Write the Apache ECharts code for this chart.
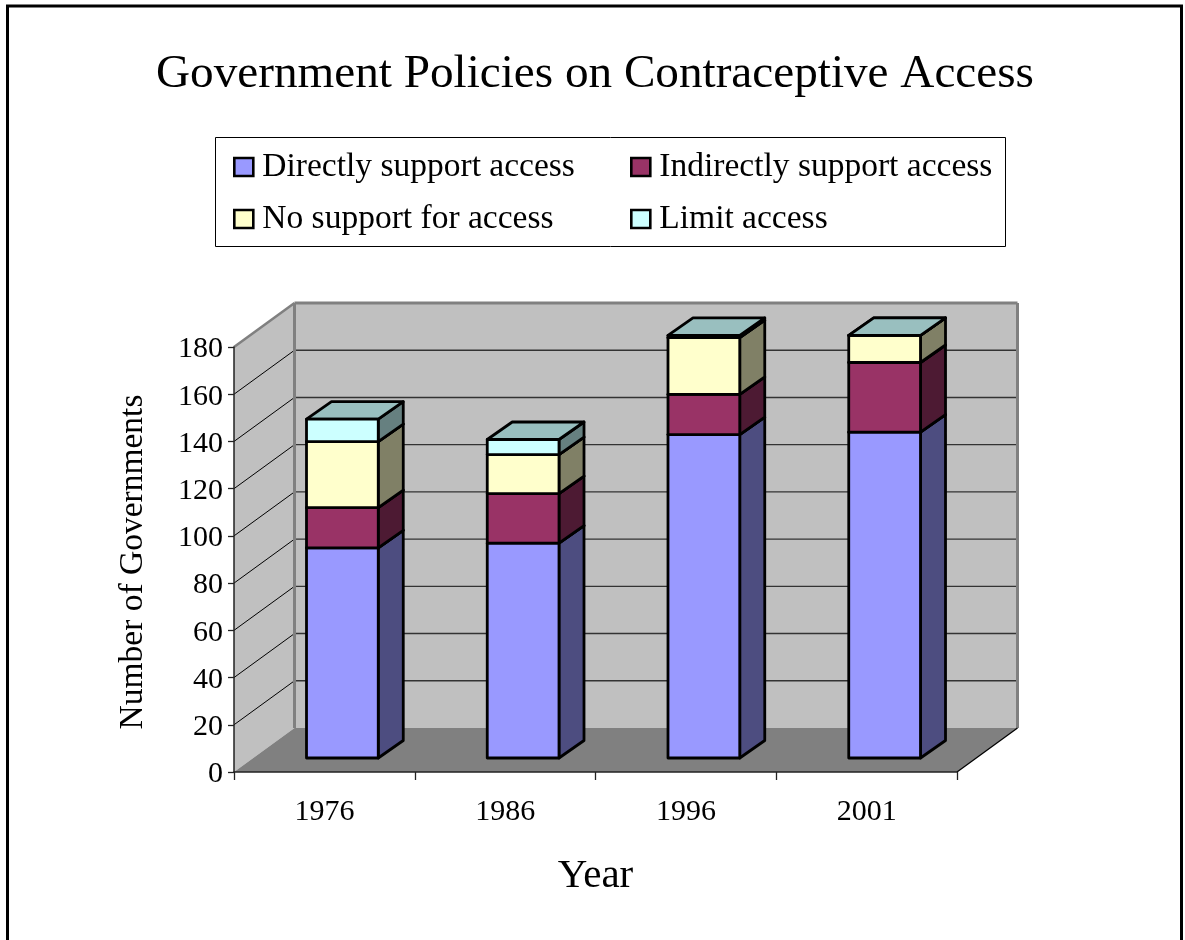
<!DOCTYPE html>
<html>
<head>
<meta charset="utf-8">
<style>html,body{margin:0;padding:0;background:#fff;overflow:hidden}#chart{width:1185px;height:940px}</style>
<script src="https://cdn.jsdelivr.net/npm/echarts@6/dist/echarts.min.js"></script>
</head>
<body>
<div id="chart"></div>
<script>
const categories = ['1976', '1986', '1996', '2001'];
const directlySupport = [89, 91, 137, 138];
const indirectlySupport = [17, 21, 17, 29.5];
const noSupport = [28, 16.5, 24, 11.5];
const limitAccess = [9.5, 6.4, 1, 0];
const yTicks = [0, 20, 40, 60, 80, 100, 120, 140, 160, 180];

const FONT = 'Liberation Serif';
const WALL = { dx: 60.5, dy: -44 };      // depth of the whole plot box
const BAR = { dx: 25, dy: -17.5, ox: 18, oy: -14, ratio: 0.397 }; // bar depth and offset into the box

// Front, side and top shades for each stacked segment
const seriesDefs = [
  { name: 'Directly support access', values: directlySupport, front: '#9999FF', side: '#4D4D80', top: '#7373BF' },
  { name: 'Indirectly support access', values: indirectlySupport, front: '#993366', side: '#4D1A33', top: '#73264D' },
  { name: 'No support for access', values: noSupport, front: '#FFFFCC', side: '#808066', top: '#BFBF99' },
  { name: 'Limit access', values: limitAccess, front: '#CCFFFF', side: '#668080', top: '#99BFBF' }
];

function poly(points, fill, stroke, lineWidth) {
  return { type: 'polygon', shape: { points },
    style: { fill, stroke: stroke || 'none', lineWidth: lineWidth || 0, lineJoin: 'round' } };
}
function line(x1, y1, x2, y2, stroke, lineWidth) {
  return { type: 'line', shape: { x1, y1, x2, y2 }, style: { stroke, lineWidth } };
}

// Back wall, side wall, floor and gridlines of the box
function renderWalls(params, api) {
  const band = api.size([1, 0])[0];
  const x0 = api.coord([0, 0])[0] - band / 2;
  const x1 = x0 + band * categories.length;
  const y0 = api.coord([0, yTicks[0]])[1];
  const yTop = api.coord([0, yTicks[yTicks.length - 1]])[1];
  const bx0 = x0 + WALL.dx, bx1 = x1 + WALL.dx;
  const by0 = y0 + WALL.dy, byTop = yTop + WALL.dy;
  const kids = [
    poly([[bx0, byTop], [bx1, byTop], [bx1, by0], [bx0, by0]], '#C0C0C0'),
    poly([[x0, yTop], [bx0, byTop], [bx0, by0], [x0, y0]], '#C0C0C0'),
    poly([[x0, y0], [x1, y0], [bx1, by0], [bx0, by0]], '#808080')
  ];
  yTicks.slice(1, -1).forEach(t => {
    const y = api.coord([0, t])[1];
    kids.push(line(x0, y, bx0, y + WALL.dy, '#000', 1));
    kids.push(line(bx0, y + WALL.dy, bx1, y + WALL.dy, '#333', 1.4));
  });
  kids.push(line(x0, yTop, bx0, byTop, '#808080', 2.5));
  kids.push(line(bx0, byTop, bx1, byTop, '#808080', 3));
  kids.push(line(bx1, byTop, bx1, by0, '#808080', 3));
  kids.push(line(bx0, byTop, bx0, by0, '#808080', 3));
  kids.push(line(x1, y0, bx1, by0, '#000', 1.3));
  return { type: 'group', children: kids };
}

// One stacked segment of a column: side, top, then front face
function renderSegment(def) {
  return function (params, api) {
    const band = api.size([1, 0])[0];
    const w = band * BAR.ratio;
    const base = api.coord([api.value(0), api.value(1)]);
    const head = api.coord([api.value(0), api.value(2)]);
    const xl = base[0] - w / 2 + BAR.ox, xr = xl + w;
    const yb = base[1] + BAR.oy, yt = head[1] + BAR.oy;
    const s = { stroke: '#000', lw: 2.8 };
    return { type: 'group', children: [
      poly([[xr, yb], [xr + BAR.dx, yb + BAR.dy], [xr + BAR.dx, yt + BAR.dy], [xr, yt]], def.side, s.stroke, s.lw),
      poly([[xl, yt], [xr, yt], [xr + BAR.dx, yt + BAR.dy], [xl + BAR.dx, yt + BAR.dy]], def.top, s.stroke, s.lw),
      poly([[xl, yb], [xr, yb], [xr, yt], [xl, yt]], def.front, s.stroke, s.lw)
    ] };
  };
}

const running = categories.map(() => 0);
const barSeries = seriesDefs.map((def, i) => ({
  type: 'custom',
  name: def.name,
  coordinateSystem: 'cartesian2d',
  clip: false,
  z: 5 + i,
  itemStyle: { color: def.front },
  encode: { x: 0, y: [1, 2] },
  renderItem: renderSegment(def),
  data: def.values.map((v, c) => {
    const from = running[c];
    running[c] = from + v;
    return [c, from, running[c]];
  })
}));

function legendItems(indices) {
  return indices.map(i => ({
    name: seriesDefs[i].name, icon: 'rect',
    itemStyle: { color: seriesDefs[i].front, borderColor: '#000', borderWidth: 2.6 }
  }));
}
const legendBase = {
  orient: 'vertical', itemWidth: 19, itemHeight: 18, itemGap: 18,
  selectedMode: false, top: 150, padding: 0,
  textStyle: { fontFamily: FONT, fontSize: 33.5, color: '#000', padding: [0, 0, 0, 4] }
};

const option = {
  animation: false,
  backgroundColor: '#fff',
  title: {
    text: 'Government Policies on Contraceptive Access',
    left: 590, top: 46, textAlign: 'center',
    textStyle: { fontFamily: FONT, fontSize: 47.2, fontWeight: 'normal', color: '#000' }
  },
  legend: [
    Object.assign({ left: 233, data: legendItems([0, 2]) }, legendBase),
    Object.assign({ left: 630, data: legendItems([1, 3]) }, legendBase)
  ],
  graphic: [
    { type: 'rect', z: -1, shape: { x: 7.5, y: 6, width: 1174, height: 1000 },
      style: { fill: 'none', stroke: '#000', lineWidth: 3 } },
    { type: 'rect', z: -1, shape: { x: 215.5, y: 137.5, width: 790, height: 109 },
      style: { fill: '#fff', stroke: '#000', lineWidth: 1 } }
  ],
  grid: { left: 234, top: 347, width: 723, height: 425, containLabel: false },
  xAxis: {
    type: 'category', data: categories, z: 3,
    name: 'Year', nameLocation: 'middle', nameGap: 84,
    nameTextStyle: { fontFamily: FONT, fontSize: 41, color: '#000' },
    axisLine: { lineStyle: { color: '#222', width: 1.5 } },
    axisTick: { show: true, length: 8, lineStyle: { color: '#222', width: 1.3 } },
    axisLabel: { fontFamily: FONT, fontSize: 30, color: '#000', margin: 25 },
    splitLine: { show: false }
  },
  yAxis: {
    type: 'value', min: 0, max: 180, interval: 20, z: 3,
    name: 'Number of Governments', nameLocation: 'middle', nameGap: 84, nameRotate: 90,
    nameTextStyle: { fontFamily: FONT, fontSize: 33.5, color: '#000', padding: [0, 5, 0, 0] },
    axisLine: { show: true, lineStyle: { color: '#222', width: 1.5 } },
    axisTick: { show: true, length: 6, lineStyle: { color: '#222', width: 1.3 } },
    axisLabel: { fontFamily: FONT, fontSize: 30, color: '#000', margin: 11, verticalAlign: 'top', lineHeight: 5 },
    splitLine: { show: false }
  },
  series: [{
    type: 'custom', coordinateSystem: 'cartesian2d', clip: false, z: 1, silent: true,
    encode: { x: 0, y: 1 },
    renderItem: renderWalls, data: [[0, 0]]
  }].concat(barSeries)
};

echarts.init(document.getElementById('chart'), null, { renderer: 'canvas' }).setOption(option);
</script>
</body>
</html>
